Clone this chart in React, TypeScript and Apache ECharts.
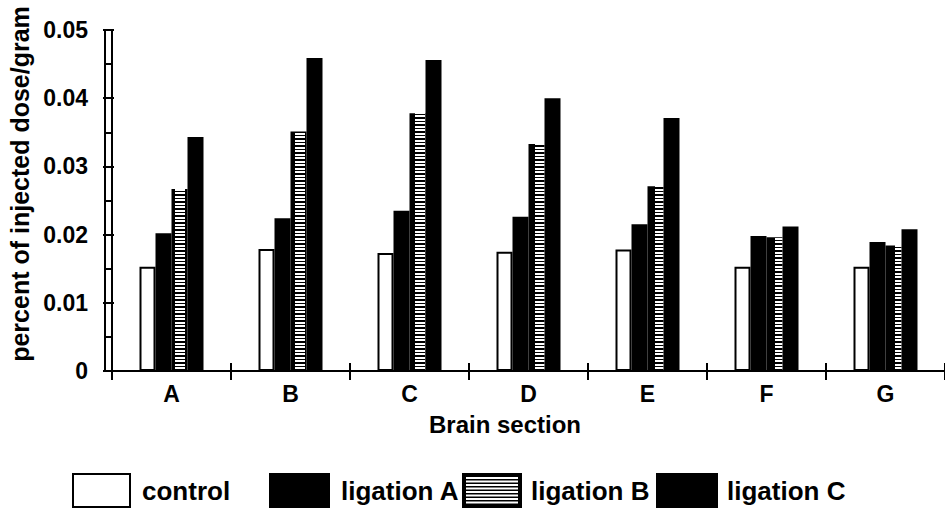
import React, { useEffect, useRef } from "react";
import * as echarts from "echarts";

const categories = ["A", "B", "C", "D", "E", "F", "G"];
const controlValues = [0.0153, 0.0179, 0.0173, 0.0175, 0.0178, 0.0153, 0.0153];
const ligationAValues = [0.0202, 0.0224, 0.0235, 0.0226, 0.0215, 0.0198, 0.0189];
const ligationBValues = [0.0267, 0.0351, 0.0378, 0.0333, 0.0271, 0.0196, 0.0184];
const ligationCValues = [0.0343, 0.0459, 0.0456, 0.04, 0.0371, 0.0212, 0.0208];
const yTicks = [0, 0.01, 0.02, 0.03, 0.04, 0.05];
const legendNames = ["control", "ligation A", "ligation B", "ligation C"];

const FONT = "'Liberation Sans', Arial, Helvetica, sans-serif";

const GRID_LEFT = 112;
const GRID_TOP = 30;
const GRID_W = 840;
const GRID_H = 341;

function makeStripeCanvas() {
  const c = document.createElement("canvas");
  c.width = 40;
  c.height = 7;
  const ctx = c.getContext("2d")!;
  ctx.fillStyle = "#000";
  ctx.fillRect(0, 0, 40, 7);
  ctx.fillStyle = "#fff";
  ctx.fillRect(15, 0, 10, 2);
  ctx.fillRect(15, 3, 10, 2);
  return c;
}

export default function App() {
  const ref = useRef<HTMLDivElement>(null);
  useEffect(() => {
    const chart = echarts.init(ref.current!, null, { renderer: "svg" });
    const stripe = makeStripeCanvas();
    const stripeFill: any = { image: stripe, repeat: "repeat", imageWidth: 40, imageHeight: 7 };

    const legendBoxes = [
      { x: 73, w: 57, fill: "#fff", text: 142 },
      { x: 270, w: 59, fill: "#000", text: 341 },
      { x: 463, w: 58, fill: "#000", text: 531 },
      { x: 657, w: 60, fill: "#000", text: 727 },
    ];
    const boxY = 474;
    const boxH = 33;
    const graphics: any[] = [];
    legendBoxes.forEach((b, i) => {
      graphics.push({
        type: "rect",
        shape: { x: b.x, y: boxY, width: b.w, height: boxH },
        style: { fill: b.fill, stroke: "#000", lineWidth: 2 },
      });
      graphics.push({
        type: "text",
        x: b.text,
        y: boxY + boxH / 2,
        style: {
          text: legendNames[i],
          font: `bold 26px ${FONT}`,
          fill: "#000",
          textVerticalAlign: "middle",
        },
      });
    });
    const sb = legendBoxes[2];
    for (let yy = boxY + 3; yy < boxY + boxH - 3; yy += 3.5) {
      graphics.push({
        type: "rect",
        shape: { x: sb.x + 3, y: yy, width: sb.w - 6, height: 2 },
        style: { fill: "#fff" },
      });
    }
    graphics.push({
      type: "text",
      x: 505,
      y: 424,
      style: {
        text: "Brain section",
        font: `bold 24px ${FONT}`,
        fill: "#000",
        textAlign: "center",
        textVerticalAlign: "middle",
      },
    });
    graphics.push({
      type: "text",
      x: 20,
      y: 184,
      rotation: Math.PI / 2,
      style: {
        text: "percent of injected dose/gram",
        font: `bold 25px ${FONT}`,
        fill: "#000",
        textAlign: "center",
        textVerticalAlign: "middle",
      },
    });

    const tickStyle = { color: "#000", width: 2 };
    const yBase = {
      type: "value",
      min: yTicks[0],
      max: yTicks[yTicks.length - 1],
      interval: 0.01,
      splitLine: { show: false },
      axisLine: { show: true, onZero: false, lineStyle: { color: "#000", width: 2 } },
      minorTick: { show: true, splitNumber: 2, length: 4, lineStyle: tickStyle },
      minorSplitLine: { show: false },
    };
    const xBase = {
      type: "category",
      data: categories,
      boundaryGap: true,
      axisLine: { show: true, onZero: false, lineStyle: { color: "#000", width: 2 } },
      splitLine: { show: false },
    };

    const option: any = {
      animation: false,
      backgroundColor: "#fff",
      grid: { left: GRID_LEFT, top: GRID_TOP, width: GRID_W, height: GRID_H, containLabel: false },
      xAxis: [
        {
          ...xBase,
          position: "bottom",
          axisTick: { show: true, length: 9, inside: false, lineStyle: tickStyle },
          axisLabel: { show: true, margin: 11, color: "#000", fontFamily: FONT, fontWeight: "bold", fontSize: 23 },
        },
        {
          ...xBase,
          position: "top",
          offset: -GRID_H,
          axisTick: { show: true, length: 8, inside: false, lineStyle: tickStyle },
          axisLabel: { show: false },
        },
      ],
      yAxis: [
        {
          ...yBase,
          position: "left",
          axisTick: { show: true, length: 9, inside: false, lineStyle: tickStyle },
          axisLabel: {
            show: true,
            margin: 24,
            color: "#000",
            fontFamily: FONT,
            fontWeight: "bold",
            fontSize: 23,
            formatter: (v: number) => (v === 0 ? "0" : v.toFixed(2)),
          },
        },
        {
          ...yBase,
          position: "right",
          offset: -GRID_W,
          axisTick: { show: true, length: 9, inside: false, lineStyle: tickStyle },
          axisLabel: { show: false },
        },
      ],
      series: [
        {
          name: legendNames[0],
          type: "bar",
          data: controlValues,
          barWidth: 16,
          barGap: "0%",
          itemStyle: { color: "#fff", borderColor: "#000", borderWidth: 2 },
        },
        {
          name: legendNames[1],
          type: "bar",
          data: ligationAValues,
          barWidth: 16,
          barGap: "0%",
          itemStyle: { color: "#000" },
        },
        {
          name: legendNames[2],
          type: "bar",
          data: ligationBValues,
          barWidth: 16,
          barGap: "0%",
          itemStyle: { color: stripeFill },
        },
        {
          name: legendNames[3],
          type: "bar",
          data: ligationCValues,
          barWidth: 16,
          barGap: "0%",
          itemStyle: { color: "#000" },
        },
      ],
      graphic: graphics,
    };
    chart.setOption(option);
    return () => chart.dispose();
  }, []);

  return (
    <div
      ref={ref}
      style={{ position: "fixed", left: 0, top: 0, width: 945, height: 514, background: "#fff" }}
    />
  );
}
